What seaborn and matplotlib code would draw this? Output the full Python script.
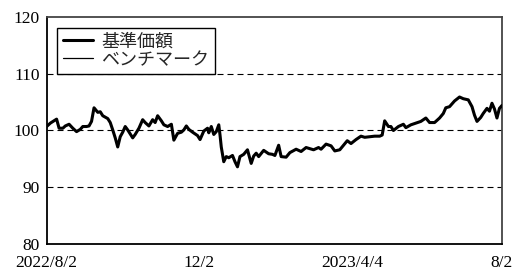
import matplotlib
matplotlib.use("Agg")
import matplotlib.pyplot as plt
import seaborn as sns
import pandas as pd
import numpy as np
from matplotlib.lines import Line2D

start_date = "2022-08-02"
day_offsets = [0, 3, 8, 10, 13, 15, 18, 21, 24, 27, 29, 32, 34, 36, 38, 41, 43, 45, 49, 51,
               53, 55, 57, 59, 61, 63, 65, 69, 71, 74, 77, 79, 82, 85, 87, 89, 92, 94, 97, 100,
               102, 105, 108, 110, 112, 114, 117, 121, 123, 126, 129, 130, 132, 134, 136, 138, 139, 140, 142, 144,
               146, 149, 151, 153, 155, 158, 161, 164, 166, 168, 170, 174, 178, 181, 183, 186, 188, 192, 195, 200,
               204, 208, 214, 218, 220, 224, 228, 231, 235, 238, 241, 244, 248, 252, 255, 259, 263, 267, 269, 271,
               274, 276, 278, 282, 286, 288, 292, 296, 300, 304, 307, 311, 315, 318, 320, 323, 327, 331, 334, 338,
               341, 343, 345, 348, 350, 353, 355, 357, 359, 361, 363, 365]
nav = [100.7, 101.3, 102.0, 100.4, 100.4, 100.8, 101.1, 100.4, 99.8, 100.2, 100.7, 100.7, 100.8, 101.6, 104.0, 103.2, 103.3, 102.6, 102.1, 101.4,
       100.1, 98.7, 97.1, 98.9, 99.7, 100.7, 100.1, 98.7, 99.3, 100.4, 101.9, 101.4, 100.8, 101.9, 101.4, 102.6, 101.7, 101.0, 100.7, 101.1,
       98.3, 99.5, 99.7, 100.1, 100.8, 100.2, 99.7, 99.1, 98.4, 99.9, 100.4, 99.6, 100.7, 99.3, 99.8, 101.0, 99.2, 97.1, 94.5, 95.4,
       95.2, 95.6, 94.5, 93.6, 95.4, 95.8, 96.6, 94.2, 95.5, 96.0, 95.4, 96.5, 95.9, 95.8, 95.6, 97.4, 95.4, 95.3, 96.1, 96.7,
       96.3, 97.0, 96.6, 97.0, 96.7, 97.6, 97.3, 96.4, 96.6, 97.4, 98.2, 97.7, 98.4, 99.0, 98.8, 98.9, 99.0, 99.0, 99.2, 101.7,
       100.7, 100.7, 100.0, 100.7, 101.1, 100.5, 101.0, 101.3, 101.6, 102.2, 101.4, 101.4, 102.2, 103.0, 104.0, 104.2, 105.2, 105.9, 105.6, 105.4,
       104.2, 102.7, 101.6, 102.3, 103.0, 103.9, 103.4, 104.8, 103.8, 102.2, 103.9, 104.4]
# the benchmark line is hidden under the fund line in the reference
benchmark = list(nav)

series_names = ["基準価額", "ベンチマーク"]
tick_dates = ["2022-08-02", "2022-12-02", "2023-04-04", "2023-08-02"]
tick_labels = ["2022/8/2", "12/2", "2023/4/4", "8/2"]
y_ticks = [80, 90, 100, 110, 120]

dates = pd.Timestamp(start_date) + pd.to_timedelta(day_offsets, unit="D")
df = pd.DataFrame({
    "date": list(dates) * 2,
    "value": nav + benchmark,
    "series": [series_names[0]] * len(nav) + [series_names[1]] * len(benchmark),
})

sns.set_theme(style="white")
plt.rcParams["font.family"] = ["Liberation Serif", "Noto Sans CJK JP", "DejaVu Sans"]

fig = plt.figure(figsize=(5.18, 2.74), dpi=100)
ax = fig.add_axes([0.090, 0.1095, 0.879, 0.8285])

for yv in [90, 100, 110]:
    ax.axhline(yv, color="black", lw=0.8, linestyle=(0, (5.4, 3.6)), zorder=1)

sns.lineplot(data=df, x="date", y="value", hue="series", size="series",
             sizes={series_names[0]: 2.2, series_names[1]: 0.9},
             hue_order=[series_names[1], series_names[0]],
             palette={series_names[0]: "black", series_names[1]: "black"},
             ax=ax, zorder=3, legend=False)

ax.set_xlim(pd.Timestamp(tick_dates[0]), pd.Timestamp(tick_dates[-1]))
ax.set_ylim(80, 120)
ax.set_yticks(y_ticks)
ax.set_xticks([pd.Timestamp(d) for d in tick_dates])
ax.set_xticklabels(tick_labels)
ax.set_xlabel("")
ax.set_ylabel("")
ax.tick_params(axis="x", direction="in", length=7, width=1.2, colors="#333333", pad=8, labelsize=12.5)
ax.tick_params(axis="y", length=0, pad=5, labelsize=12.5)
for lab in ax.get_xticklabels() + ax.get_yticklabels():
    lab.set_color("black")

for s in ["left", "bottom"]:
    ax.spines[s].set_color("black")
    ax.spines[s].set_linewidth(1.3)
for s in ["top", "right"]:
    ax.spines[s].set_color("#444444")
    ax.spines[s].set_linewidth(1.3)

handles = [Line2D([], [], color="black", lw=2.2), Line2D([], [], color="black", lw=0.9)]
leg = ax.legend(handles, series_names, loc="upper left", bbox_to_anchor=(0.023, 0.952),
                borderaxespad=0, fancybox=False, framealpha=1, edgecolor="black",
                fontsize=13, handlelength=1.7, handletextpad=0.45, borderpad=0.3,
                labelspacing=0.08)
leg.get_frame().set_linewidth(1.0)
leg.set_zorder(5)

fig.savefig("out.png", dpi=100)
